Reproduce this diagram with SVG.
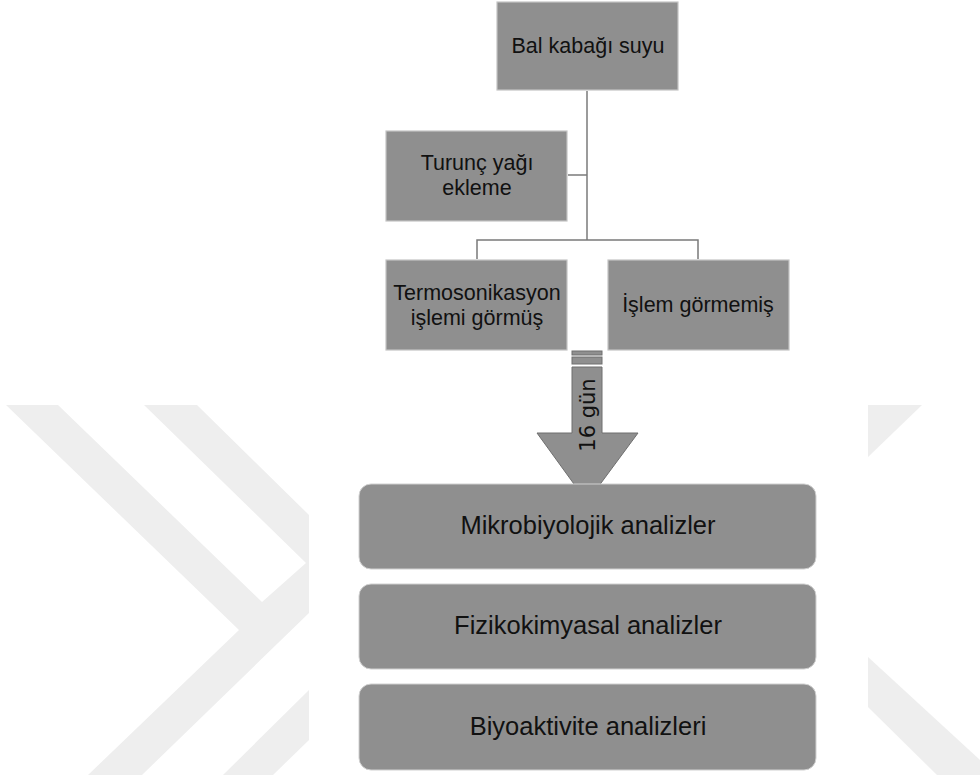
<svg xmlns="http://www.w3.org/2000/svg" width="980" height="778" viewBox="0 0 980 778">
<style>
.wm{fill:#eeeeee;stroke:none}
.box{fill:#8f8f8f;stroke:#c4c4c4;stroke-width:1.2}
.rbox{fill:#8f8f8f;stroke:#d0d0d0;stroke-width:1}
.t{font-family:"Liberation Sans",Arial,sans-serif;font-size:21.5px;fill:#111;text-anchor:middle}
.tb{font-family:"Liberation Sans",Arial,sans-serif;font-size:25.5px;fill:#111;text-anchor:middle}
.c{fill:none;stroke:#7a7a7a;stroke-width:1.5}
.arr{fill:#8f8f8f;stroke:#6f6f6f;stroke-width:1}
</style>
<rect width="980" height="778" fill="#ffffff"/>
<g id="watermark">
<polygon class="wm" points="6,405 58,405 262,602 306,563 144,405 197,405 309,515 309,613 142,775 88,775 239,630"/>
<polygon class="wm" points="223,775 309,690 309,740 273,775"/>
<polygon class="wm" points="868,405 922,405 868,457"/>
<polygon class="wm" points="868,657 980,760 980,775 937,775 868,707"/>
</g>
<g id="connectors">
<polyline class="c" points="587,91 587,240"/>
<polyline class="c" points="568,175 587,175"/>
<polyline class="c" points="477,259 477,240 698,240 698,259"/>
</g>
<g id="n-balkabagi">
<rect class="box" x="497" y="2" width="181" height="88"/>
<text class="t" x="588" y="53">Bal kabağı suyu</text>
</g>
<g id="n-turunc">
<rect class="box" x="386" y="131" width="181" height="90"/>
<text class="t" x="477" y="170">Turunç yağı</text>
<text class="t" x="477" y="195">ekleme</text>
</g>
<g id="n-termo">
<rect class="box" x="386" y="260" width="181" height="90"/>
<text class="t" x="477" y="300">Termosonikasyon</text>
<text class="t" x="477" y="325">işlemi görmüş</text>
</g>
<g id="n-islem">
<rect class="box" x="608" y="260" width="181" height="90"/>
<text class="t" x="698" y="312">İşlem görmemiş</text>
</g>
<g id="arrow">
<rect class="arr" x="572" y="351" width="30" height="4"/>
<rect class="arr" x="572" y="357" width="30" height="7"/>
<polygon class="arr" points="572,367 602,367 602,433 638,433 587,502 537,433 572,433"/>
<text font-family="DejaVu Sans,sans-serif" font-size="21" fill="#111" text-anchor="middle" transform="translate(595,415) rotate(-90)">16 gün</text>
</g>
<g id="n-mikro">
<rect class="rbox" x="359" y="484" width="457" height="85" rx="12"/>
<text class="tb" x="588" y="534">Mikrobiyolojik analizler</text>
</g>
<g id="n-fiziko">
<rect class="rbox" x="359" y="584" width="457" height="85" rx="12"/>
<text class="tb" x="588" y="634">Fizikokimyasal analizler</text>
</g>
<g id="n-biyo">
<rect class="rbox" x="359" y="684" width="457" height="86" rx="12"/>
<text class="tb" x="588" y="735">Biyoaktivite analizleri</text>
</g>
</svg>
